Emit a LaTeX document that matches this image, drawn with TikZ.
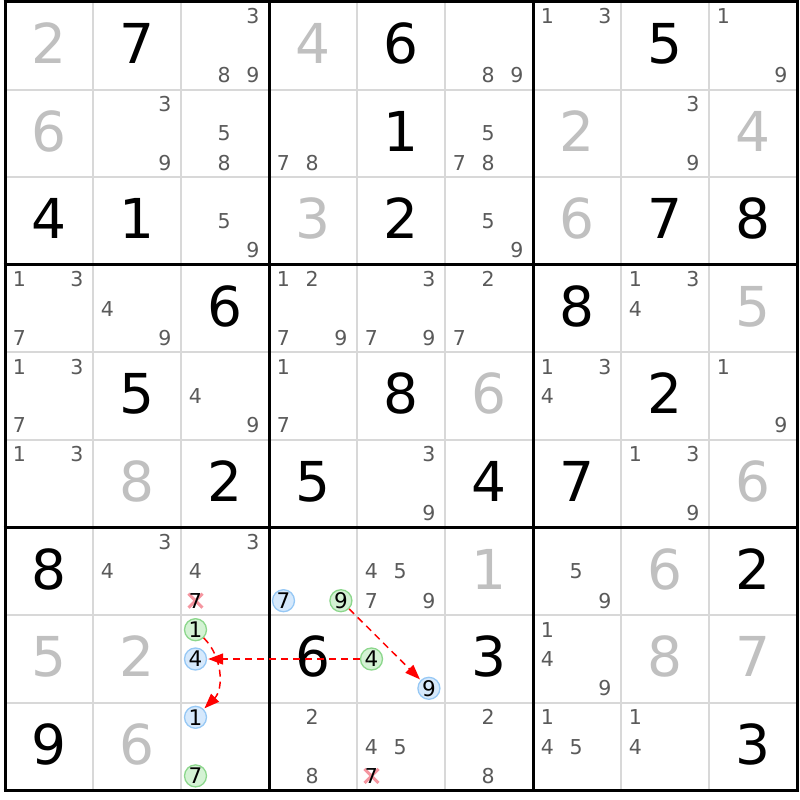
\documentclass[tikz,border=0pt]{standalone}
\usepackage{fontspec}
\setmainfont{DejaVu Sans}
\usetikzlibrary{arrows.meta}

\definecolor{solvedgray}{RGB}{192,192,192}
\definecolor{candgray}{RGB}{90,90,90}
\definecolor{thingray}{RGB}{216,216,216}
\definecolor{chainblue}{RGB}{214,233,252}
\definecolor{chainblueline}{RGB}{150,200,245}
\definecolor{chaingreen}{RGB}{212,242,212}
\definecolor{chaingreenline}{RGB}{140,215,140}
\definecolor{crosspink}{RGB}{245,150,160}

\tikzset{
  given/.style={anchor=base, inner sep=0pt, font=\fontsize{55}{55}\selectfont},
  solved/.style={given, text=solvedgray},
  cand/.style={inner sep=0pt, text height=14.9pt, text depth=0pt,
    font=\fontsize{20.5}{20.5}\selectfont, text=candgray},
  onblue/.style={inner sep=0pt, text height=15.5pt, text depth=0pt,
    font=\fontsize{21.5}{21.5}\selectfont, circle, text=black, fill=chainblue,
    draw=chainblueline, line width=1.3pt, minimum size=22pt},
  ongreen/.style={onblue, fill=chaingreen, draw=chaingreenline},
  crossmark/.style={crosspink, line width=3pt},
  link/.style={red, line width=1.5pt, dash pattern=on 7pt off 5pt, shorten >=1pt},
}

\begin{document}
\begin{tikzpicture}[x=1pt, y=-1pt, >={Triangle[length=15pt,width=11pt]},
  declare function={cx(\c)=5+88*\c; ry(\r)=2+87.6*\r;}]
  \useasboundingbox[fill=white] (0,0) rectangle (800,800);

  % grid
  \foreach \i in {1,...,8} {
    \draw[thingray, line width=2pt] ({cx(\i)},{ry(0)}) -- ({cx(\i)},{ry(9)});
    \draw[thingray, line width=2pt] ({cx(0)},{ry(\i)}) -- ({cx(9)},{ry(\i)});
  }
  \foreach \i in {0,3,6,9} {
    \draw[line width=3pt] ({cx(\i)},{ry(0)-1.5}) -- ({cx(\i)},{ry(9)+1.5});
    \draw[line width=3pt] ({cx(0)-1.5},{ry(\i)}) -- ({cx(9)+1.5},{ry(\i)});
  }

  % clues and solved cells
  \foreach \r/\c/\v in {0/1/7, 0/4/6, 0/7/5, 1/4/1, 2/0/4, 2/1/1, 2/4/2, 2/7/7,
      2/8/8, 3/2/6, 3/6/8, 4/1/5, 4/4/8, 4/7/2, 5/2/2, 5/3/5, 5/5/4, 5/6/7,
      6/0/8, 6/8/2, 7/3/6, 7/5/3, 8/0/9, 8/8/3}
    \node[given] (g\r\c) at ({cx(\c)+44},{ry(\r)+61.5}) {\v};
  \foreach \r/\c/\v in {0/0/2, 0/3/4, 1/0/6, 1/6/2, 1/8/4, 2/3/3, 2/6/6, 3/8/5,
      4/5/6, 5/1/8, 5/8/6, 6/5/1, 6/7/6, 7/0/5, 7/1/2, 7/7/8, 7/8/7, 8/1/6}
    \node[solved] (g\r\c) at ({cx(\c)+44},{ry(\r)+61.5}) {\v};

  % pencil marks
  \foreach \r/\c/\ds in {0/2/{3,8,9}, 0/5/{8,9}, 0/6/{1,3}, 0/8/{1,9},
      1/1/{3,9}, 1/2/{5,8}, 1/3/{7,8}, 1/5/{5,7,8}, 1/7/{3,9},
      2/2/{5,9}, 2/5/{5,9},
      3/0/{1,3,7}, 3/1/{4,9}, 3/3/{1,2,7,9}, 3/4/{3,7,9}, 3/5/{2,7}, 3/7/{1,3,4},
      4/0/{1,3,7}, 4/2/{4,9}, 4/3/{1,7}, 4/6/{1,3,4}, 4/8/{1,9},
      5/0/{1,3}, 5/4/{3,9}, 5/7/{1,3,9},
      6/1/{3,4}, 6/2/{3,4}, 6/4/{4,5,7,9}, 6/6/{5,9},
      7/6/{1,4,9},
      8/3/{2,8}, 8/4/{4,5}, 8/5/{2,8}, 8/6/{1,4,5}, 8/7/{1,4}}
    \foreach \d in \ds
      \node[cand] (k\r\c\d) at ({cx(\c)+14.5+28.7*mod(\d-1,3)},
        {ry(\r)+14.5+29.3*floor((\d-1)/3)}) {\d};

  % eliminated
  \foreach \r/\c in {6/2, 8/4} {
    \coordinate (x\r\c) at ({cx(\c)+14.5},{ry(\r)+14.5+58.6});
    \draw[crossmark] (x\r\c) +(-7,-7) -- +(7,7) (x\r\c) +(-7,7) -- +(7,-7);
    \node[cand, text=black] (k\r\c7) at (x\r\c) {7};
  }

  % chain
  \foreach \r/\c/\d/\col in {6/3/7/blue, 6/3/9/green, 7/2/1/green, 7/2/4/blue,
      7/4/4/green, 7/4/9/blue, 8/2/1/blue, 8/2/7/green}
    \node[on\col] (k\r\c\d) at ({cx(\c)+14.5+28.7*mod(\d-1,3)},
      {ry(\r)+14.5+29.3*floor((\d-1)/3)}) {\d};

  \draw[->, link] (k639) -- (k749);
  \draw[->, link] (k744) -- (k724);
  \draw[->, link] (k721) to[bend left=45] (k821);
\end{tikzpicture}
\end{document}
